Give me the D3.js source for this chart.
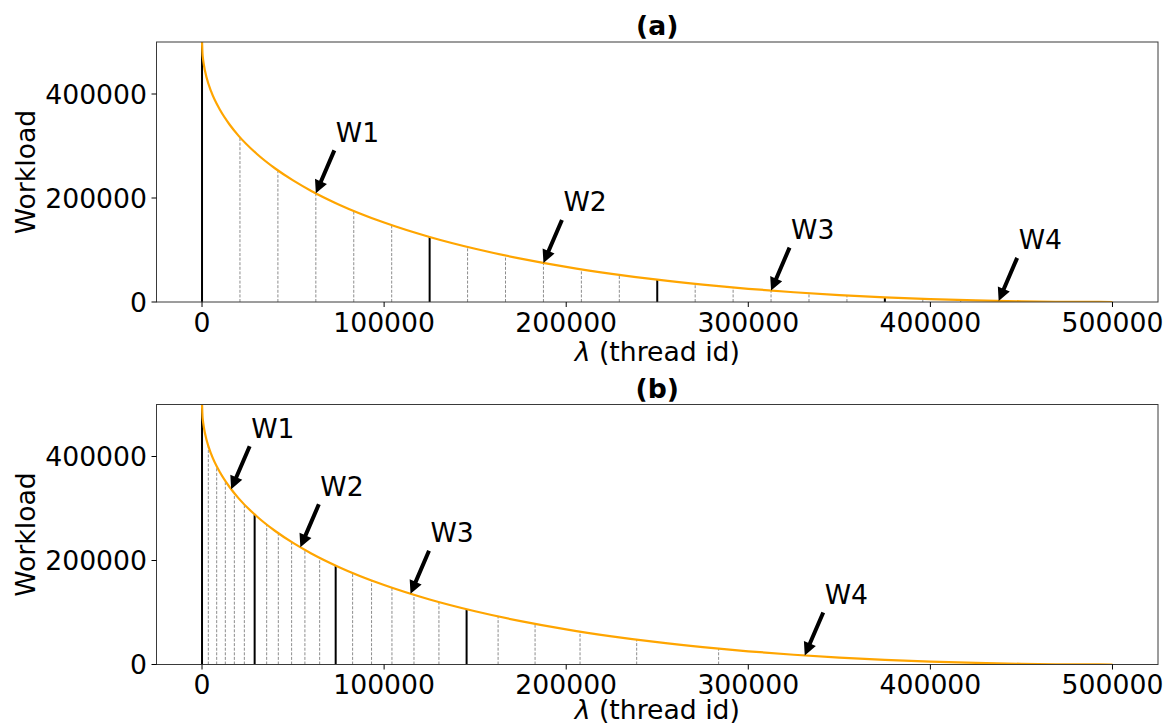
<!DOCTYPE html>
<html>
<head>
<meta charset="utf-8">
<script src="https://cdn.jsdelivr.net/npm/d3@7"></script>
<style>
  html, body { margin: 0; padding: 0; background: #fff; }
  svg { display: block; font-family: "DejaVu Sans", sans-serif; }
</style>
</head>
<body>
<svg id="chart" width="1167" height="725"></svg>
<script>
// ---------- data ----------
const threadIds = [0, 250, 500, 1000, 2500, 5000, 10000, 15000, 20000, 30000, 40000, 50000, 60000, 75000,
  100000, 125000, 150000, 175000, 200000, 225000, 250000, 275000, 300000, 325000, 350000, 375000,
  400000, 425000, 450000, 475000, 500000];
const workload = [500000, 477900, 468900, 456300, 431800, 405000, 368600, 341800, 320000, 285100, 257200, 233800, 213600, 187700,
  152800, 125000, 102300, 83400, 67500, 54200, 42900, 33400, 25400, 18800, 13300, 9000,
  5600, 3000, 1300, 300, 0];

// panel (a): equal thread splits
const splitsA = [20833, 41667, 62500, 83333, 104167, 145833, 166667, 187500, 208333, 229167,
  270833, 291667, 312500, 333333, 354167, 395833, 416667, 437500, 458333, 479167];
const splitHeightsA = [316700, 253000, 208900, 175100, 147700, 105800, 89300, 75100, 62800, 52200,
  34900, 27900, 21900, 16800, 12500, 6100, 3800, 2100, 900, 200];
const boundsA = [0, 125000, 250000, 375000];
const boundHeightsA = [500000, 125000, 42900, 9000];
const arrowXA = [62500, 187500, 312500, 437500];
const arrowYA = [208900, 75100, 21900, 2100];

// panel (b): balanced-workload splits
const splitsB = [3460, 8050, 12800, 17750, 23250, 35500, 41900, 49200, 56500, 64600,
  82700, 93100, 104300, 116400, 130100, 162600, 182900, 207600, 238700, 283700];
const splitHeightsB = [420300, 381200, 352800, 329300, 307600, 269100, 252400, 235500, 220300, 205200,
  176000, 161600, 147600, 133900, 120000, 92300, 78100, 63200, 47800, 30400];
const boundsB = [0, 28900, 73400, 145300];
const boundHeightsB = [500000, 288500, 190300, 106200];
const arrowXB = [16000, 54000, 114500, 331000];
const arrowYB = [337100, 225400, 136000, 17400];

const arrowLabels = ["W1", "W2", "W3", "W4"];
const xTicks = [0, 100000, 200000, 300000, 400000, 500000];
const yTicks = [0, 200000, 400000];
const panelTitles = ["(a)", "(b)"];
const xLabel = "(thread id)";
const yLabel = "Workload";

// ---------- drawing ----------
const svg = d3.select("#chart");
const FS = 26.67;
const left = 156.5, right = 1158;
const x = d3.scaleLinear().domain([-25000, 525000]).range([left, right]);

function panel(top, bottom, title, splits, splitH, bounds, boundH, ax, ay) {
  const y = d3.scaleLinear().domain([0, 500000]).range([bottom, top]);
  const g = svg.append("g");

  const cid = "clip" + Math.round(top);
  svg.append("clipPath").attr("id", cid).append("rect")
    .attr("x", left).attr("y", top).attr("width", right - left).attr("height", bottom - top);
  const plot = g.append("g").attr("clip-path", `url(#${cid})`);

  // dashed split lines
  plot.selectAll("line.split").data(splits).join("line")
    .attr("class", "split")
    .attr("x1", d => x(d)).attr("x2", d => x(d))
    .attr("y1", y(0)).attr("y2", (d, i) => y(splitH[i]))
    .attr("stroke", "#808080").attr("stroke-width", 0.9).attr("stroke-dasharray", "3,1.6");

  // solid boundaries
  plot.selectAll("line.bound").data(bounds).join("line")
    .attr("class", "bound")
    .attr("x1", d => x(d)).attr("x2", d => x(d))
    .attr("y1", y(0)).attr("y2", (d, i) => y(boundH[i]))
    .attr("stroke", "#000").attr("stroke-width", 2);

  // curve
  const line = d3.line().x(d => x(d[0])).y(d => y(d[1])).curve(d3.curveMonotoneX);
  plot.append("path").datum(threadIds.map((t, i) => [t, workload[i]]))
    .attr("d", line).attr("fill", "none").attr("stroke", "#FFA500").attr("stroke-width", 2.2);

  // frame
  g.append("rect").attr("x", left).attr("y", top).attr("width", right - left).attr("height", bottom - top)
    .attr("fill", "none").attr("stroke", "#3a3a3a").attr("stroke-width", 1);

  // ticks
  const xt = g.append("g");
  xTicks.forEach(t => {
    xt.append("line").attr("x1", x(t)).attr("x2", x(t)).attr("y1", bottom).attr("y2", bottom + 5)
      .attr("stroke", "#000").attr("stroke-width", 1);
    xt.append("text").attr("x", x(t)).attr("y", bottom + 29.5).attr("text-anchor", "middle")
      .attr("font-size", FS).attr("fill", "#000").text(t);
  });
  yTicks.forEach(t => {
    xt.append("line").attr("x1", left - 5).attr("x2", left).attr("y1", y(t)).attr("y2", y(t))
      .attr("stroke", "#000").attr("stroke-width", 1);
    xt.append("text").attr("x", left - 9.5).attr("y", y(t) + 9.6).attr("text-anchor", "end")
      .attr("font-size", FS).attr("fill", "#000").text(t);
  });

  // axis labels
  const xl = g.append("text").attr("x", (left + right) / 2).attr("y", Math.min(bottom + 59, 718.5))
    .attr("text-anchor", "middle").attr("font-size", FS).attr("fill", "#000");
  xl.append("tspan").attr("font-style", "italic").text("λ");
  xl.append("tspan").text(" " + xLabel);
  g.append("text").attr("transform", `translate(35,${(top + bottom) / 2}) rotate(-90)`)
    .attr("text-anchor", "middle").attr("font-size", FS).attr("fill", "#000").text(yLabel);

  // title
  g.append("text").attr("x", (left + right) / 2).attr("y", top - 7).attr("text-anchor", "middle")
    .attr("font-size", FS).attr("font-weight", "bold").attr("fill", "#000").text(title);

  // arrows + labels
  ax.forEach((xv, i) => {
    const tx = x(xv), ty = y(ay[i]);
    const sx = tx + 18.5, sy = ty - 43;
    const dx = tx - sx, dy = ty - sy, L = Math.hypot(dx, dy);
    const ux = dx / L, uy = dy / L, px = -uy, py = ux;
    const hl = 13, hw = 6.5, sw = 2;
    const bx = tx - ux * hl, by = ty - uy * hl;
    const pts = [
      [sx + px * sw, sy + py * sw], [bx + px * sw, by + py * sw], [bx + px * hw, by + py * hw],
      [tx, ty], [bx - px * hw, by - py * hw], [bx - px * sw, by - py * sw], [sx - px * sw, sy - py * sw]
    ];
    g.append("polygon").attr("points", pts.map(p => p.join(",")).join(" ")).attr("fill", "#000");
    g.append("text").attr("x", tx + 20).attr("y", ty - 51.5).attr("font-size", FS).attr("fill", "#000")
      .text(arrowLabels[i]);
  });
}

panel(42, 302, panelTitles[0], splitsA, splitHeightsA, boundsA, boundHeightsA, arrowXA, arrowYA);
panel(404.5, 664.5, panelTitles[1], splitsB, splitHeightsB, boundsB, boundHeightsB, arrowXB, arrowYB);
</script>
</body>
</html>
